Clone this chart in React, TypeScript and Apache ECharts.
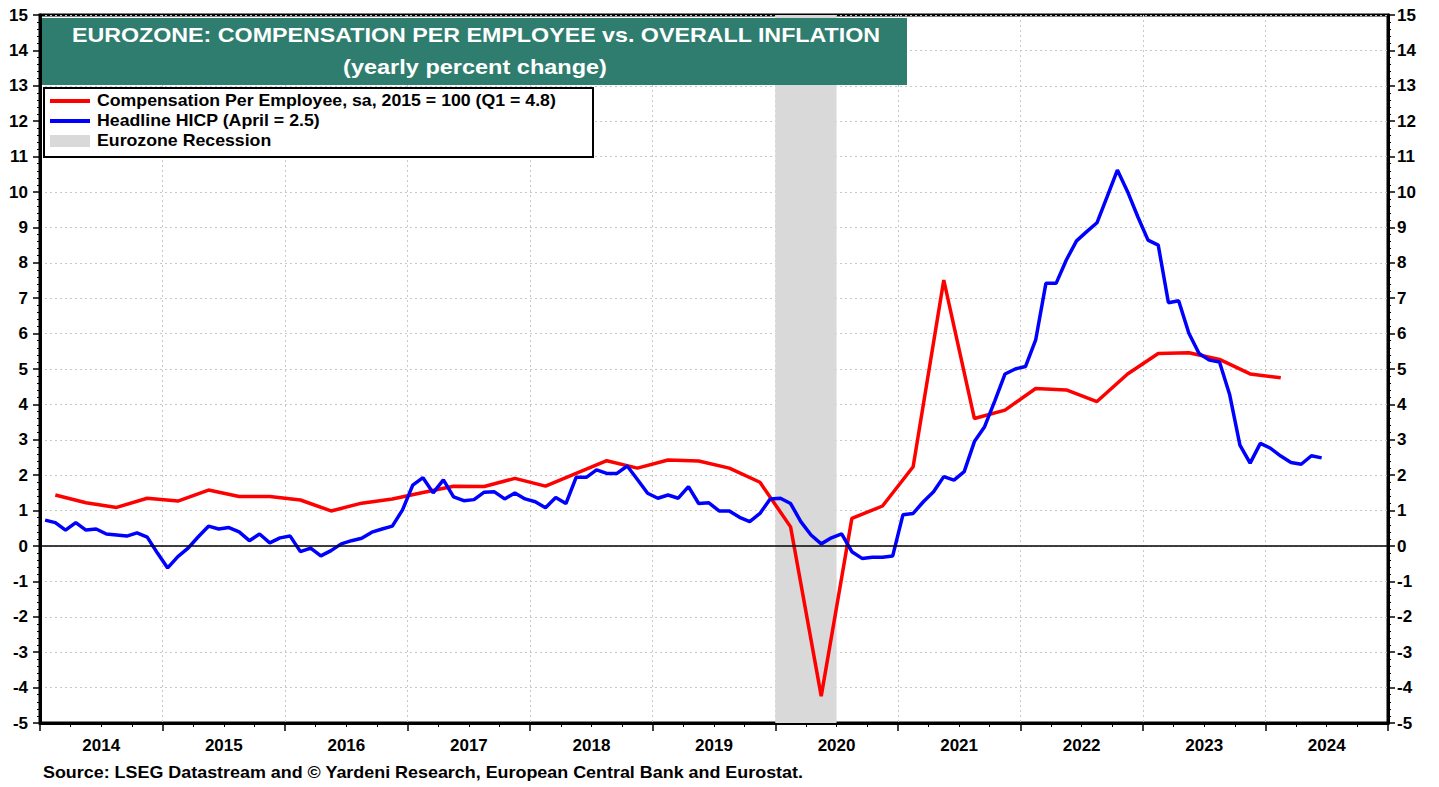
import React, { useEffect, useRef } from "react";
import * as echarts from "echarts";

const FONT = "Arial, 'Liberation Sans', Helvetica, sans-serif";

const titleLines = [
  "EUROZONE: COMPENSATION PER EMPLOYEE vs. OVERALL INFLATION",
  "(yearly percent change)",
];
const legendLabels = [
  "Compensation Per Employee, sa, 2015 = 100 (Q1 = 4.8)",
  "Headline HICP (April = 2.5)",
  "Eurozone Recession",
];
const sourceText =
  "Source: LSEG Datastream and \u00A9 Yardeni Research, European Central Bank and Eurostat.";

const xMinYear = 2014;
const xMaxYear = 2025;
const yMin = -5;
const yMax = 15;

// Quarterly, starting 2014 Q1
const compStartYear = 2014;
const compensation = [
  1.44, 1.22, 1.09, 1.35,
  1.27, 1.58, 1.4, 1.4,
  1.3, 0.99, 1.21, 1.33,
  1.51, 1.69, 1.68, 1.91,
  1.69, 2.05, 2.41, 2.2,
  2.43, 2.4, 2.2, 1.8,
  0.54, -4.24, 0.78, 1.13,
  2.24, 7.51, 3.6, 3.84,
  4.45, 4.41, 4.08, 4.86,
  5.44, 5.46, 5.27, 4.86,
  4.75,
];

// Monthly, starting Jan 2014
const hicpStartYear = 2014;
const hicp = [
  0.73, 0.66, 0.45, 0.66, 0.45, 0.48, 0.34, 0.31, 0.28, 0.37, 0.25, -0.2,
  -0.62, -0.3, -0.06, 0.26, 0.56, 0.48, 0.52, 0.4, 0.15, 0.34, 0.09, 0.23,
  0.28, -0.16, -0.06, -0.28, -0.13, 0.06, 0.15, 0.22, 0.39, 0.48, 0.56, 1.02,
  1.72, 1.93, 1.5, 1.87, 1.39, 1.28, 1.31, 1.52, 1.53, 1.33, 1.5, 1.33,
  1.25, 1.08, 1.37, 1.2, 1.94, 1.94, 2.15, 2.05, 2.05, 2.26, 1.88, 1.49,
  1.35, 1.44, 1.35, 1.68, 1.2, 1.22, 0.99, 0.99, 0.81, 0.69, 0.92, 1.33,
  1.35, 1.2, 0.69, 0.31, 0.06, 0.23, 0.34, -0.16, -0.35, -0.32, -0.32, -0.28,
  0.88, 0.92, 1.25, 1.53, 1.96, 1.86, 2.1, 2.95, 3.37, 4.1, 4.86, 5.0,
  5.07, 5.82, 7.42, 7.42, 8.08, 8.62, 8.88, 9.13, 9.87, 10.62, 10.01, 9.3,
  8.64, 8.5, 6.87, 6.93, 6.01, 5.44, 5.25, 5.2, 4.27, 2.85, 2.34, 2.9,
  2.76, 2.54, 2.36, 2.31, 2.55, 2.49,
];

const recessionStart = 2020.0;
const recessionEnd = 2020.5;

const RED = "#ff0000";
const BLUE = "#0000ff";
const GRAY = "#d9d9d9";
const GREEN = "#2e7d6e";

export default function App() {
  const ref = useRef<HTMLDivElement>(null);

  useEffect(() => {
    if (!ref.current) return;
    const chart = echarts.init(ref.current, undefined, { renderer: "svg" });

    const compData = compensation.map((v, i) => [compStartYear + (i + 0.5) / 4, v]);
    const hicpData = hicp.map((v, i) => [hicpStartYear + (i + 0.5) / 12, v]);

    const tickLabelStyle = {
      color: "#000",
      fontFamily: FONT,
      fontWeight: "bold" as const,
      fontSize: 17,
    };

    const yAxisCommon = (position: "left" | "right") => ({
      type: "value" as const,
      position,
      min: yMin,
      max: yMax,
      interval: 1,
      axisLine: { show: true, lineStyle: { color: "#000", width: 3 } },
      axisTick: { show: true, length: 7, lineStyle: { color: "#000", width: 1.5 } },
      minorTick: { show: true, splitNumber: 5, length: 3, lineStyle: { color: "#000", width: 1 } },
      axisLabel: { ...tickLabelStyle, margin: position === "left" ? 12 : 9 },
      splitLine: {
        show: position === "left",
        lineStyle: { color: "#c8c8c8", type: [2, 3] as any, width: 1 },
      },
    });

    const txt = (
      text: string,
      x: number,
      y: number,
      font: string,
      fill: string,
      align: "left" | "center",
      sx: number
    ) => ({
      type: "text",
      x,
      y,
      scaleX: sx,
      silent: true,
      style: {
        text,
        font,
        fill,
        align,
        textAlign: align,
        verticalAlign: "middle",
        textVerticalAlign: "middle",
      },
    });

    chart.setOption({
      animation: false,
      backgroundColor: "#fff",
      grid: {
        left: 40,
        right: 51,
        top: 15,
        bottom: 64,
        show: true,
        borderColor: "#000",
        borderWidth: 3,
        backgroundColor: "transparent",
      },
      xAxis: [
        {
          type: "value",
          min: xMinYear,
          max: xMaxYear,
          interval: 1,
          axisLine: { show: true, onZero: false, lineStyle: { color: "#000", width: 3 } },
          axisTick: { show: true, length: 8, lineStyle: { color: "#000", width: 1.5 } },
          minorTick: { show: true, splitNumber: 4, length: 4, lineStyle: { color: "#000", width: 1 } },
          axisLabel: { show: false },
          splitLine: { show: true, lineStyle: { color: "#c8c8c8", type: [2, 3], width: 1 } },
        },
        {
          type: "value",
          position: "bottom",
          min: xMinYear,
          max: xMaxYear,
          interval: 0.5,
          axisLine: { show: false, onZero: false },
          axisTick: { show: false },
          splitLine: { show: false },
          axisLabel: {
            ...tickLabelStyle,
            margin: 14,
            formatter: (v: number) =>
              Math.abs((v % 1) - 0.5) < 0.01 ? String(Math.floor(v)) : "",
          },
        },
      ],
      yAxis: [yAxisCommon("left"), yAxisCommon("right")],
      graphic: [
        {
          type: "rect",
          shape: { x: 42, y: 18, width: 865, height: 67 },
          style: { fill: GREEN },
          silent: true,
          z: 100,
        },
        { ...txt(titleLines[0], 476, 35, `bold 21px ${FONT}`, "#fff", "center", 1.107), z: 101 },
        { ...txt(titleLines[1], 475, 67, `bold 21px ${FONT}`, "#fff", "center", 1.12), z: 101 },
        {
          type: "rect",
          shape: { x: 44, y: 88, width: 549, height: 69 },
          style: { fill: "#fff", stroke: "#000", lineWidth: 2 },
          silent: true,
          z: 100,
        },
        {
          type: "line",
          shape: { x1: 50, y1: 101, x2: 90, y2: 101 },
          style: { stroke: RED, lineWidth: 4 },
          z: 101,
        },
        {
          type: "line",
          shape: { x1: 50, y1: 121, x2: 90, y2: 121 },
          style: { stroke: BLUE, lineWidth: 4 },
          z: 101,
        },
        {
          type: "rect",
          shape: { x: 50, y: 135, width: 40, height: 12 },
          style: { fill: GRAY },
          z: 101,
        },
        { ...txt(legendLabels[0], 97, 101, `bold 16px ${FONT}`, "#000", "left", 1.108), z: 101 },
        { ...txt(legendLabels[1], 97, 121, `bold 16px ${FONT}`, "#000", "left", 1.108), z: 101 },
        { ...txt(legendLabels[2], 97, 141, `bold 16px ${FONT}`, "#000", "left", 1.108), z: 101 },
        { ...txt(sourceText, 43, 773, `bold 16px ${FONT}`, "#000", "left", 1.12), z: 101 },
      ],
      series: [
        {
          name: "bg",
          type: "line",
          xAxisIndex: 0,
          yAxisIndex: 0,
          data: [],
          z: 1,
          silent: true,
          markArea: {
            silent: true,
            itemStyle: { color: GRAY },
            data: [[{ xAxis: recessionStart }, { xAxis: recessionEnd }]],
          },
          markLine: {
            silent: true,
            symbol: "none",
            label: { show: false },
            lineStyle: { color: "#000", type: "solid", width: 1.5 },
            data: [{ yAxis: 0 }],
          },
        },
        {
          name: legendLabels[0],
          type: "line",
          xAxisIndex: 0,
          yAxisIndex: 0,
          data: compData,
          showSymbol: false,
          symbol: "none",
          lineStyle: { color: RED, width: 3.5 },
          z: 3,
        },
        {
          name: legendLabels[1],
          type: "line",
          xAxisIndex: 0,
          yAxisIndex: 0,
          data: hicpData,
          showSymbol: false,
          symbol: "none",
          lineStyle: { color: BLUE, width: 3.5 },
          z: 4,
        },
      ],
    });

    return () => chart.dispose();
  }, []);

  return (
    <div
      ref={ref}
      style={{ position: "fixed", left: 0, top: 0, width: 1439, height: 787, background: "#fff" }}
    />
  );
}
